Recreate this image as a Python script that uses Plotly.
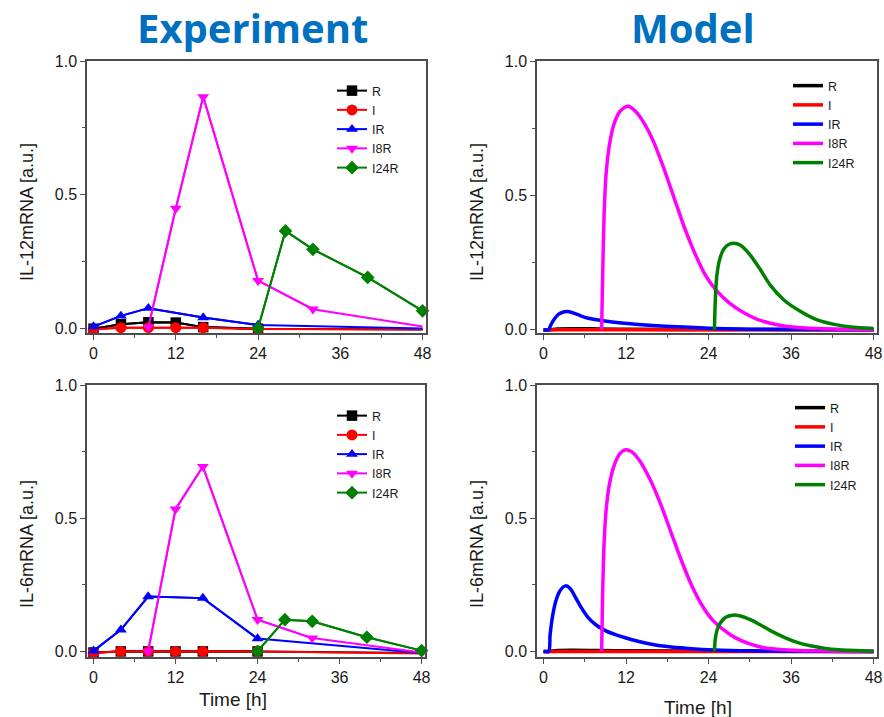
import plotly.graph_objects as go

# ---------------- DATA ----------------
series_names = ["R", "I", "IR", "I8R", "I24R"]

# Experiment, IL-12
exp12_R_t = [0, 4, 8, 12, 16, 24, 48]
exp12_R_v = [-0.002, 0.015, 0.022, 0.021, 0.004, -0.002, -0.005]
exp12_I_t = [0, 4, 8, 12, 16, 24, 48]
exp12_I_v = [-0.004, 0.002, 0.002, 0.002, 0.002, -0.003, -0.005]
exp12_IR_t = [0, 4, 8, 16, 24, 48]
exp12_IR_v = [0.006, 0.046, 0.075, 0.040, 0.012, -0.001]
exp12_I8R_t = [8, 12, 16, 24, 32, 48]
exp12_I8R_v = [0.004, 0.448, 0.866, 0.178, 0.071, 0.006]
exp12_I24R_t = [24, 28, 32, 40, 48]
exp12_I24R_v = [0.0, 0.364, 0.295, 0.190, 0.065]

# Experiment, IL-6
exp6_R_t = [0, 4, 8, 12, 16, 24, 48]
exp6_R_v = [-0.004, 0.0, 0.0, 0.0, 0.0, 0.0, -0.006]
exp6_I_t = [0, 4, 8, 12, 16, 24, 48]
exp6_I_v = [-0.005, 0.0, 0.0, 0.0, 0.0, 0.0, -0.008]
exp6_IR_t = [0, 4, 8, 16, 24, 48]
exp6_IR_v = [0.002, 0.081, 0.206, 0.200, 0.048, -0.006]
exp6_I8R_t = [8, 12, 16, 24, 32, 48]
exp6_I8R_v = [0.0, 0.534, 0.694, 0.119, 0.050, -0.004]
exp6_I24R_t = [24, 28, 32, 40, 48]
exp6_I24R_v = [0.0, 0.119, 0.113, 0.053, 0.003]

# Model, IL-12
mod12_R_t = [0, 0.8, 2, 4, 8, 12, 24, 48]
mod12_R_v = [0, 0, 0.003, 0.004, 0.003, 0.002, 0.001, 0]
mod12_I_t = [0, 12, 24, 36, 48]
mod12_I_v = [0, 0, 0, 0, 0]
mod12_IR_t = [0, 0.75, 1.0, 1.5, 2.2, 3.0, 3.6, 4.4, 5.4, 6.5, 8, 10, 12.6, 16.5, 20.4, 24.8, 30, 48]
mod12_IR_v = [0, 0, 0.015, 0.037, 0.058, 0.067, 0.068, 0.062, 0.052, 0.043, 0.036, 0.029, 0.022, 0.015, 0.010, 0.005, 0.002, 0]
mod12_I8R_t = [8.45, 8.6, 8.8, 9.1, 9.6, 10.3, 11.2, 12.3, 13.3, 14.6, 16, 17.5, 19, 20.5, 22, 23.5, 25, 27, 29, 31, 33, 35, 38, 42, 48]
mod12_I8R_v = [0, 0.2, 0.42, 0.58, 0.69, 0.77, 0.815, 0.832, 0.815, 0.77, 0.70, 0.60, 0.49, 0.38, 0.285, 0.205, 0.15, 0.10, 0.065, 0.04, 0.024, 0.014, 0.007, 0.003, 0]
mod12_I24R_t = [24.85, 25.0, 25.2, 25.6, 26.2, 27.0, 27.7, 28.6, 30, 31.5, 33, 35, 37.4, 39.8, 42.3, 44.7, 48]
mod12_I24R_v = [0, 0.12, 0.2, 0.26, 0.30, 0.318, 0.322, 0.315, 0.28, 0.225, 0.165, 0.11, 0.068, 0.037, 0.02, 0.01, 0.005]

# Model, IL-6
mod6_R_t = [0, 0.8, 2, 4, 8, 12, 24, 48]
mod6_R_v = [0, 0, 0.003, 0.004, 0.003, 0.002, 0.001, 0]
mod6_I_t = [0, 12, 24, 36, 48]
mod6_I_v = [0, 0, 0, 0, 0]
mod6_IR_t = [0, 0.75, 0.95, 1.3, 1.8, 2.4, 3.2, 3.9, 4.6, 5.4, 6.4, 7.6, 9, 11, 13, 15.5, 18, 21, 25, 30, 48]
mod6_IR_v = [0, 0, 0.06, 0.13, 0.19, 0.228, 0.246, 0.235, 0.205, 0.168, 0.13, 0.10, 0.078, 0.058, 0.043, 0.028, 0.018, 0.011, 0.005, 0.002, 0]
mod6_I8R_t = [8.45, 8.6, 8.8, 9.1, 9.6, 10.3, 11.1, 11.9, 12.8, 14, 15.5, 17, 18.5, 20, 21.5, 23, 24.5, 26, 28, 30, 32, 34, 37, 48]
mod6_I8R_v = [0, 0.22, 0.40, 0.53, 0.63, 0.70, 0.742, 0.757, 0.75, 0.715, 0.645, 0.555, 0.45, 0.345, 0.25, 0.175, 0.12, 0.085, 0.05, 0.028, 0.014, 0.008, 0.003, 0]
mod6_I24R_t = [24.85, 25.0, 25.3, 25.8, 26.5, 27.5, 28.5, 30, 31.5, 33, 35, 37, 39, 41, 43, 48]
mod6_I24R_v = [0, 0.05, 0.085, 0.11, 0.128, 0.136, 0.134, 0.12, 0.10, 0.078, 0.053, 0.033, 0.02, 0.011, 0.006, 0.001]

x_tick_vals = [0, 12, 24, 36, 48]
y_tick_vals = [0.0, 0.5, 1.0]
panel_titles = ["Experiment", "Model"]
y_titles = ["IL-12mRNA [a.u.]", "IL-6mRNA [a.u.]"]
x_title = "Time [h]"

# ---------------- STYLE ----------------
W, H = 884, 717
colors = {"R": "black", "I": "#FF0000", "IR": "#0000FF", "I8R": "#FF00FF", "I24R": "#008000"}
symbols = {"R": "square", "I": "circle", "IR": "triangle-up", "I8R": "triangle-down", "I24R": "diamond"}
msize = {"R": 10.5, "I": 11, "IR": 10.5, "I8R": 10.5, "I24R": 10.5}
FONT = "Liberation Sans, Arial, sans-serif"
AXC = "#4d4d4d"
TXT = "#1a1a1a"


def px_x(p):
    return p / W


def px_y(p):
    return 1 - p / H


fig = go.Figure()

exp_data = [
    [(exp12_R_t, exp12_R_v), (exp12_I_t, exp12_I_v), (exp12_IR_t, exp12_IR_v),
     (exp12_I8R_t, exp12_I8R_v), (exp12_I24R_t, exp12_I24R_v)],
    [(exp6_R_t, exp6_R_v), (exp6_I_t, exp6_I_v), (exp6_IR_t, exp6_IR_v),
     (exp6_I8R_t, exp6_I8R_v), (exp6_I24R_t, exp6_I24R_v)],
]
mod_data = [
    [(mod12_R_t, mod12_R_v), (mod12_I_t, mod12_I_v), (mod12_IR_t, mod12_IR_v),
     (mod12_I8R_t, mod12_I8R_v), (mod12_I24R_t, mod12_I24R_v)],
    [(mod6_R_t, mod6_R_v), (mod6_I_t, mod6_I_v), (mod6_IR_t, mod6_IR_v),
     (mod6_I8R_t, mod6_I8R_v), (mod6_I24R_t, mod6_I24R_v)],
]

# panel index: 1 top-left, 2 top-right, 3 bottom-left, 4 bottom-right
for row in range(2):
    ax = 1 + 2 * row
    k = "" if ax == 1 else str(ax)
    leg = "legend" if ax == 1 else f"legend{ax}"
    for name, (t, v) in zip(series_names, exp_data[row]):
        # full connecting line (the 48 h end point has no visible marker, except I24R)
        fig.add_trace(go.Scatter(
            x=t, y=v, mode="lines", showlegend=False, hoverinfo="skip",
            line=dict(color=colors[name], width=2),
            xaxis=f"x{k}", yaxis=f"y{k}",
        ))
    for name, (t, v) in zip(series_names, exp_data[row]):
        keep = [i for i, tt in enumerate(t) if tt < 48 or name == "I24R"]
        fig.add_trace(go.Scatter(
            x=[t[i] for i in keep], y=[v[i] for i in keep], name=name, mode="lines+markers",
            line=dict(color=colors[name], width=2),
            marker=dict(symbol=symbols[name], color=colors[name], size=msize[name]),
            xaxis=f"x{k}", yaxis=f"y{k}", legend=leg, cliponaxis=False,
        ))
    ax = 2 + 2 * row
    leg = f"legend{ax}"
    for name, (t, v) in zip(series_names, mod_data[row]):
        fig.add_trace(go.Scatter(
            x=t, y=v, name=name, mode="lines",
            line=dict(color=colors[name], width=3.5, shape="spline", smoothing=0.8),
            xaxis=f"x{ax}", yaxis=f"y{ax}", legend=leg,
        ))

dom_x = {1: (87, 426), 2: (537, 877), 3: (87, 425), 4: (537, 877)}
dom_y = {1: (61, 333), 2: (61, 333), 3: (385, 657), 4: (385, 657)}
yr = {1: [-0.018, 1.0], 2: [-0.012, 1.0], 3: [-0.021, 1.0], 4: [-0.021, 1.0]}

layout = dict(
    width=W, height=H, margin=dict(l=0, r=0, t=0, b=0),
    paper_bgcolor="white", plot_bgcolor="white", showlegend=True,
    font=dict(family=FONT, size=16, color=TXT),
)
for ax in range(1, 5):
    k = "" if ax == 1 else str(ax)
    x0, x1 = dom_x[ax]
    yt, yb = dom_y[ax]
    layout[f"xaxis{k}"] = dict(
        domain=[px_x(x0), px_x(x1)], range=[-0.95, 48.5], anchor=f"y{k}",
        tickmode="array", tickvals=x_tick_vals, ticks="outside", ticklen=5,
        tickwidth=1.3, tickcolor=AXC, showline=True, linecolor=AXC, linewidth=1.5,
        mirror=True, showgrid=False, zeroline=False,
        minor=dict(tickmode="linear", tick0=0, dtick=6, ticks="outside", ticklen=3, tickcolor=AXC),
        tickfont=dict(family=FONT, size=16, color=TXT), automargin=False,
    )
    layout[f"yaxis{k}"] = dict(
        domain=[px_y(yb), px_y(yt)], range=yr[ax], anchor=f"x{k}",
        tickmode="array", tickvals=y_tick_vals, tickformat=".1f", ticks="outside", ticklen=5,
        tickwidth=1.3, tickcolor=AXC, showline=True, linecolor=AXC, linewidth=1.5,
        mirror=True, showgrid=False, zeroline=False,
        minor=dict(tickmode="linear", tick0=0, dtick=0.25, ticks="outside", ticklen=3, tickcolor=AXC),
        tickfont=dict(family=FONT, size=16, color=TXT), automargin=False,
    )

leg_pos = {1: (332, 76), 2: (788, 71), 3: (332, 401), 4: (790, 393)}
for ax in range(1, 5):
    key = "legend" if ax == 1 else f"legend{ax}"
    lx, ly = leg_pos[ax]
    layout[key] = dict(
        x=px_x(lx), y=px_y(ly), xanchor="left", yanchor="top",
        bgcolor="rgba(0,0,0,0)", borderwidth=0, tracegroupgap=0,
        font=dict(family=FONT, size=12.5, color=TXT), itemwidth=30,
    )

fig.update_layout(**layout)

ann = []
for txt, cx in zip(panel_titles, [253, 693]):
    ann.append(dict(text=f"<b>{txt}</b>", x=px_x(cx), y=px_y(28), xref="paper", yref="paper",
                    xanchor="center", yanchor="middle", showarrow=False,
                    font=dict(family="Open Sans", size=40, color="#0070C0")))
for (cx, cy, txt) in [(27, 212, y_titles[0]), (477, 212, y_titles[0]),
                      (27, 544, y_titles[1]), (477, 544, y_titles[1])]:
    ann.append(dict(text=txt, x=px_x(cx), y=px_y(cy), xref="paper", yref="paper",
                    xanchor="center", yanchor="middle", textangle=-90, showarrow=False,
                    font=dict(family=FONT, size=18, color=TXT)))
for (cx, cy) in [(233, 699), (698, 707)]:
    ann.append(dict(text=x_title, x=px_x(cx), y=px_y(cy), xref="paper", yref="paper",
                    xanchor="center", yanchor="middle", showarrow=False,
                    font=dict(family=FONT, size=19, color=TXT)))
fig.update_layout(annotations=ann)

fig.write_html("out.html", config={"displayModeBar": False},
               post_script="document.body.style.margin='0px';")
